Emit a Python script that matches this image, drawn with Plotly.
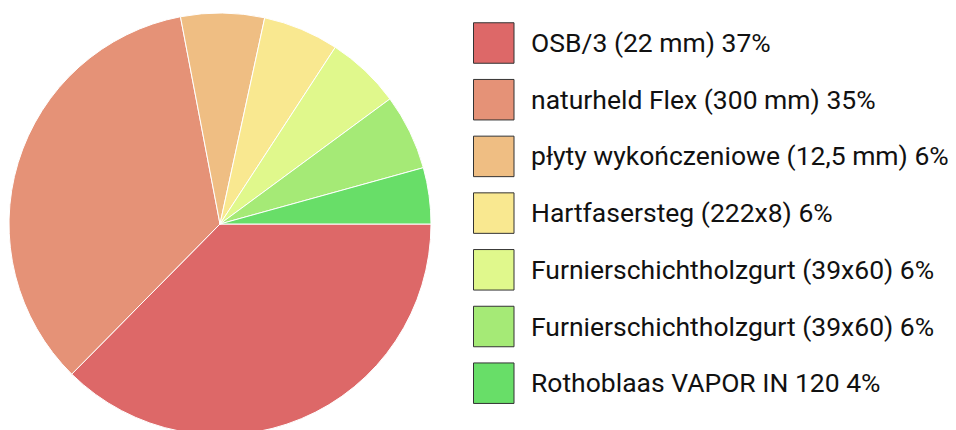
import plotly.graph_objects as go

names = [
    "OSB/3 (22 mm) 37%",
    "naturheld Flex (300 mm) 35%",
    "płyty wykończeniowe (12,5 mm) 6%",
    "Hartfasersteg (222x8) 6%",
    "Furnierschichtholzgurt (39x60) 6%",
    "Furnierschichtholzgurt (39x60) 6%",
    "Rothoblaas VAPOR IN 120 4%",
]
values = [37.4, 34.6, 6.4, 5.8, 5.7, 5.8, 4.3]
colors = ["#DD6868", "#E59277", "#EFBE83", "#F9E890", "#E0F88C", "#A5EA76", "#68DE68"]

W, H = 956, 430
# the page body has an 8px margin, so figure coordinates are offset by 8px
cx, cy, r = 212, 216, 211

fig = go.Figure()
fig.add_trace(go.Pie(
    labels=[str(i) for i in range(len(values))],
    values=values,
    sort=False,
    direction="clockwise",
    rotation=90,
    marker=dict(colors=colors, line=dict(color="white", width=1)),
    textinfo="none",
    hovertext=names,
    hoverinfo="text",
    showlegend=False,
    domain=dict(x=[(cx - r) / W, (cx + r) / W], y=[(H - cy - r) / H, (H - cy + r) / H]),
))

# custom legend (hidden pixel-coordinate axes)
lx0, lsize, ly0, lstep, tx = 465.5, 40.5, 35.0, 56.7, 520.5
for i, (n, c) in enumerate(zip(names, colors)):
    yc = ly0 + i * lstep
    fig.add_shape(type="rect", xref="x", yref="y",
                  x0=lx0, x1=lx0 + lsize, y0=yc - lsize / 2, y1=yc + lsize / 2,
                  fillcolor=c, line=dict(color="#333333", width=1))
    fig.add_annotation(x=tx, y=yc - 0.5, xref="x", yref="y", text=n, showarrow=False,
                       xanchor="left", yanchor="middle",
                       font=dict(family="Roboto", size=26.5, color="#111111"))

fig.update_layout(
    width=W, height=H,
    margin=dict(l=0, r=0, t=0, b=0),
    paper_bgcolor="white", plot_bgcolor="rgba(0,0,0,0)",
    xaxis=dict(range=[0, W], visible=False, fixedrange=True),
    yaxis=dict(range=[H, 0], visible=False, fixedrange=True),
    font=dict(family="Roboto"),
)
fig.write_html("out.html")
